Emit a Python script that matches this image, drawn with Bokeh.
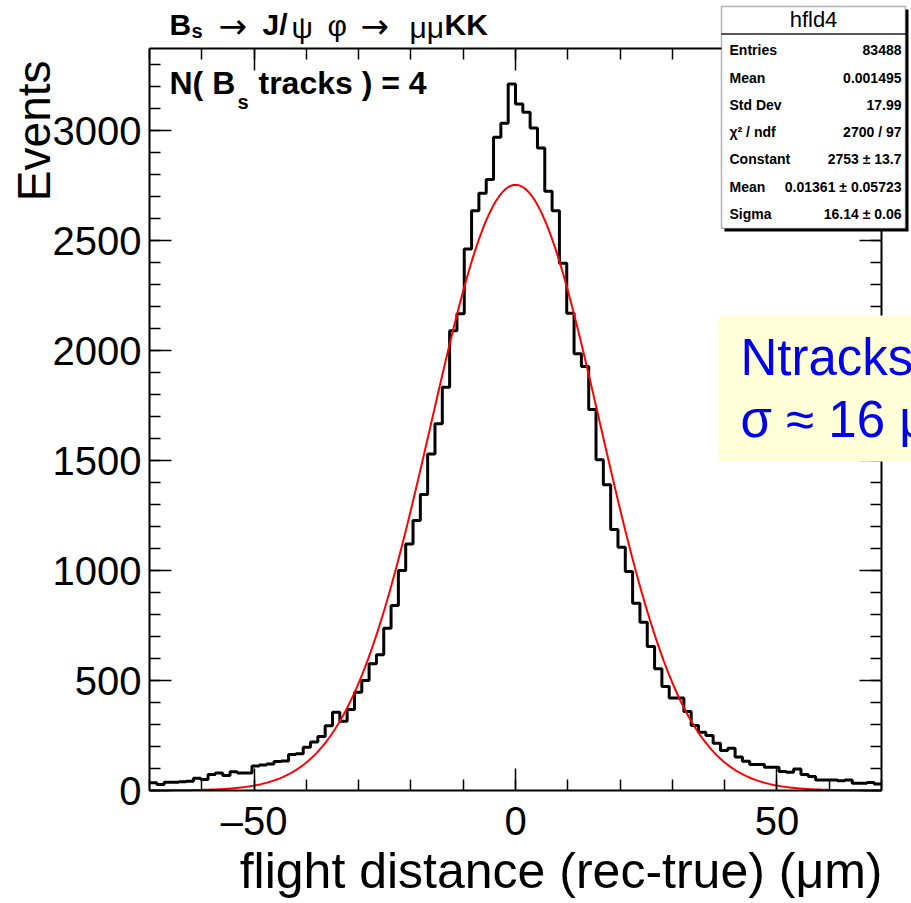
import numpy as np
from bokeh.plotting import figure
from bokeh.models import Range1d, FixedTicker, LinearAxis, Label, BoxAnnotation
from bokeh.embed import file_html
from bokeh.resources import INLINE

# ---------------- data ----------------
x_lo, x_hi = -70.0, 70.0
n_bins = 100
counts = [
    35, 27, 37, 37, 40, 42, 56, 50, 73, 79,
    68, 85, 79, 79, 111, 116, 121, 132, 134, 164,
    167, 197, 220, 245, 294, 356, 315, 368, 447, 500,
    576, 617, 737, 841, 1000, 1121, 1227, 1345, 1530, 1667,
    1833, 2090, 2167, 2462, 2636, 2715, 2777, 2970, 3033, 3212,
    3121, 3083, 3012, 2921, 2724, 2636, 2397, 2169, 1985, 1927,
    1732, 1503, 1390, 1186, 1106, 995, 851, 765, 655, 553,
    473, 421, 421, 359, 295, 265, 250, 215, 182, 192,
    152, 133, 118, 118, 106, 106, 86, 83, 98, 73,
    64, 48, 48, 48, 44, 48, 33, 33, 36, 30,
]
fit_constant = 2753.0
fit_mean = 0.01361
fit_sigma = 16.14

x_major = [-50, 0, 50]
x_minor = list(range(-70, 71, 10))
y_major = [0, 500, 1000, 1500, 2000, 2500, 3000]
y_minor = list(range(0, 3400, 100))
x_tick_labels = {-50: "\u201350", 0: "0", 50: "50"}
y_lo, y_hi = 0.0, 3373.0

stats_title = "hfld4"
stats_names = ["Entries", "Mean", "Std Dev", "\u03c7\u00b2 / ndf", "Constant", "Mean", "Sigma"]
stats_values = ["83488", "0.001495", "17.99", "2700 / 97", "2753 \u00b1 13.7",
                "0.01361 \u00b1 0.05723", "16.14 \u00b1 0.06"]
x_title = "flight distance (rec-true) (\u03bcm)"
y_title = "Events"
note_lines = ["Ntracks = 4", "\u03c3 \u2248 16 \u03bcm"]

# ---------------- layout ----------------
W, H = 911, 903
PL, PR, PT, PB = 149, 881, 48, 790   # plot box in page pixels
FONT = "Liberation Sans"
SYM = "DejaVu Sans"

kx = (PR - PL) / (x_hi - x_lo)
ky = (PB - PT) / (y_hi - y_lo)
x_range = Range1d(x_lo - PL / kx, x_hi + (W - PR) / kx)
y_range = Range1d(y_lo - (H - PB) / ky, y_hi + PT / ky)

def sx(px):
    return px

def sy(py):
    return H - py

p = figure(width=W, height=H, output_backend="svg", toolbar_location=None,
           x_range=x_range, y_range=y_range,
           x_axis_type=None, y_axis_type=None,
           min_border_left=0, min_border_right=0, min_border_top=0, min_border_bottom=0)
p.background_fill_color = "white"
p.border_fill_color = "white"
p.outline_line_color = None

def make_axis(ticks, minor, loc, bounds, labels=True, overrides=None):
    ax = LinearAxis(ticker=FixedTicker(ticks=ticks, minor_ticks=minor),
                    fixed_location=loc, bounds=bounds)
    ax.axis_line_width = 2
    ax.major_tick_in = 22
    ax.major_tick_out = 0
    ax.minor_tick_in = 11
    ax.minor_tick_out = 0
    ax.major_tick_line_width = 1.5
    ax.minor_tick_line_width = 1.5
    ax.major_label_text_font = FONT
    if labels:
        ax.major_label_text_font_size = "40px"
        ax.major_label_text_color = "black"
        if overrides:
            ax.major_label_overrides = overrides
    else:
        ax.major_label_text_font_size = "0px"
        ax.major_label_standoff = 0
        ax.major_label_text_color = None
    return ax

xb = make_axis(x_major, x_minor, y_lo, (x_lo, x_hi), True, x_tick_labels)
xb.major_label_standoff = 8
p.add_layout(xb, "below")
xa = make_axis(x_major, x_minor, y_hi, (x_lo, x_hi), False)
p.add_layout(xa, "above")
yl = make_axis(y_major, y_minor, x_lo, (y_lo, y_hi), True)
yl.major_label_standoff = 8
p.add_layout(yl, "left")
yr = make_axis(y_major, y_minor, x_hi, (y_lo, y_hi), False)
p.add_layout(yr, "right")

# histogram
edges = np.linspace(x_lo, x_hi, n_bins + 1)
ys = list(counts) + [counts[-1]]
p.step(x=edges, y=ys, mode="after", line_color="black", line_width=3)

# fit
xf = np.linspace(x_lo, x_hi, 600)
yf = fit_constant * np.exp(-0.5 * ((xf - fit_mean) / fit_sigma) ** 2)
p.line(xf, yf, line_color="#ff0000", line_width=2)

def lab(px, py, text, size, bold=False, align="left", baseline="middle",
        color="black", font=FONT, angle=0.0):
    p.add_layout(Label(x=sx(px), y=sy(py), x_units="screen", y_units="screen", text=text,
                       text_font=font, text_font_style="bold" if bold else "normal",
                       text_font_size=size, text_align=align, text_baseline=baseline,
                       text_color=color, angle=angle))

# title: B_s -> J/psi phi -> mu mu K K
lab(169, 24, "B", "30px", True)
lab(191, 30, "s", "20px", True)
lab(218, 25, "\u2192", "34px", font=SYM)
lab(262, 24, "J/", "30px", True)
lab(291, 27, "\u03c8", "30px")
lab(327, 25, "\u03c6", "30px")
lab(360, 25, "\u2192", "34px", font=SYM)
lab(409, 27, "\u03bc\u03bc", "30px")
lab(444, 24, "KK", "30px", True)

# N( B_s tracks ) = 4
lab(169, 82, "N( B", "32px", True)
lab(237, 101, "s", "20px", True)
lab(258, 82, "tracks ) = 4", "32px", True)

# axis titles
lab(882, 870, x_title, "50px", align="right")
lab(33, 60, y_title, "46px", align="right", angle=np.pi / 2)

# stats box
def box(l, r, t, b, fill, line=None, lw=1.0):
    p.add_layout(BoxAnnotation(left=sx(l), right=sx(r), top=sy(t), bottom=sy(b),
                               left_units="screen", right_units="screen", top_units="screen",
                               bottom_units="screen", fill_color=fill, fill_alpha=1,
                               line_color=line, line_width=lw))

box(724, 908, 9, 231, "black")
box(721, 905, 6, 228, "white", "black", 1.5)
box(721, 905, 33, 34, "black", "black", 1)
lab(813, 19, stats_title, "22px", align="center")
row_y = [49, 77, 104, 131, 158, 186, 213]
for name, val, yy in zip(stats_names, stats_values, row_y):
    lab(729, yy, name, "14px", True)
    lab(901, yy, val, "14px", True, align="right")

# yellow note
box(718, 930, 315, 461, "#ffffd8")
for txt, yy in zip(note_lines, [357, 419]):
    lab(740, yy, txt, "51px", color="#0000f0")

open("out.html", "w").write(file_html(p, INLINE))
